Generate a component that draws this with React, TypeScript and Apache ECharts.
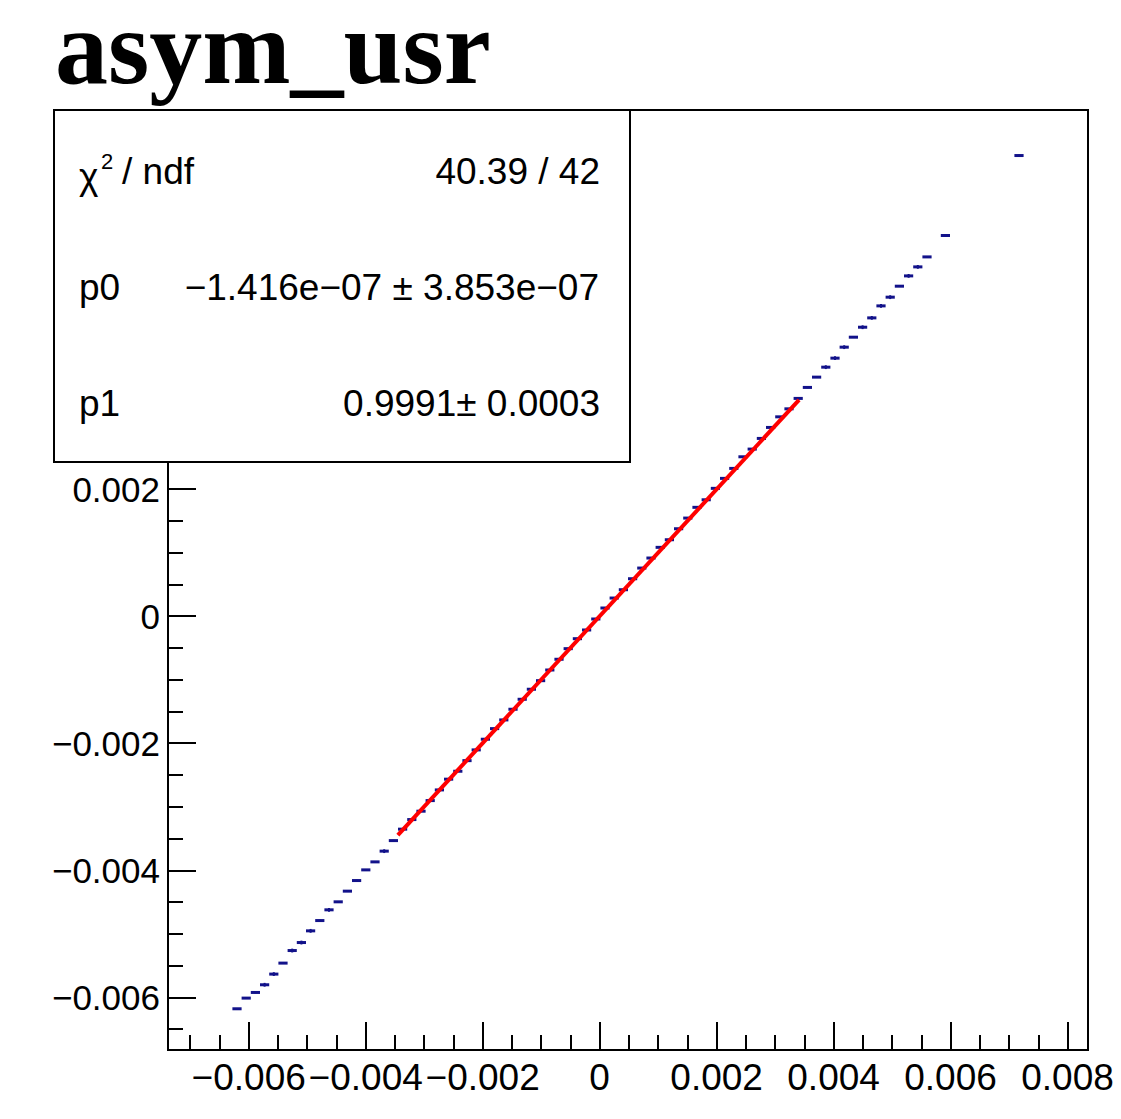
import React, { useEffect, useRef } from "react";
import * as echarts from "echarts";

// ---- data ----
const TITLE = "asym_usr";
const HIST_MIN = -0.00738;
const HIST_MAX = 0.00835;
const N_BINS = 100;
const Y_MIN = -0.00683;
const Y_MAX = 0.00797;

const binIndex = [
  7, 8, 9, 10, 11, 12, 13, 14, 15, 16, 17, 18, 19, 20, 21, 22, 23, 24,
  25, 26, 27, 28, 29, 30, 31, 32, 33, 34, 35, 36, 37, 38, 39, 40, 41, 42, 43, 44, 45, 46,
  47, 48, 49, 50, 51, 52, 53, 54, 55, 56, 57, 58, 59, 60, 61, 62, 63, 64, 65, 66, 67, 68,
  69, 70, 71, 72, 73, 74, 75, 76, 77, 78, 79, 80, 81, 82, 84, 92,
];
const yValues = [
  -0.006181, -0.006013, -0.005924, -0.005803, -0.005635, -0.005462, -0.005264, -0.005138,
  -0.004954, -0.004792, -0.004623, -0.004497, -0.004329, -0.004162, -0.003994, -0.003868,
  -0.003699, -0.003533,
  -0.003353, -0.003202, -0.00307, -0.002903, -0.002735, -0.002566, -0.002441, -0.002274,
  -0.002105, -0.001937, -0.00177, -0.001633, -0.001465, -0.001308, -0.00115, -0.001015,
  -0.000847, -0.000678, -0.000511, -0.000354, -0.000217, -0.000044,
  0.000129, 0.000286, 0.000417, 0.00059, 0.000758, 0.000916, 0.001084, 0.001204, 0.001377,
  0.001545, 0.001714, 0.001833, 0.002013, 0.00217, 0.002327, 0.00251, 0.002631, 0.002799,
  0.002972, 0.003139, 0.003265, 0.003429,
  0.003602, 0.003764, 0.003921, 0.004063, 0.004236, 0.004393, 0.00455, 0.004697, 0.004886,
  0.005023, 0.005196, 0.005358, 0.0055, 0.005657, 0.005994, 0.007253,
];
const yErrors = [
  0.000012, 0.000012, 0.000012, 0.00003, 0.00003, 0.000012, 0.00003, 0.00003,
  0.00003, 0.000012, 0.00003, 0.000012, 0.000012, 0.000012, 0.000012, 0.000012,
  0.00003, 0.000012,
  0.000012, 0.000012, 0.000012, 0.000012, 0.000012, 0.000012, 0.000012, 0.000012,
  0.000012, 0.000012, 0.000012, 0.000012, 0.000012, 0.000012, 0.000012, 0.000012,
  0.000012, 0.000012, 0.000012, 0.000012, 0.000012, 0.000012,
  0.000012, 0.000012, 0.000012, 0.000012, 0.000012, 0.000012, 0.000012, 0.000012, 0.000012,
  0.000012, 0.000012, 0.000012, 0.000012, 0.000012, 0.000012, 0.000012, 0.000012, 0.000012,
  0.000012, 0.000012, 0.000012, 0.000012,
  0.000012, 0.000012, 0.00003, 0.00003, 0.00003, 0.000012, 0.00003, 0.00003, 0.00003,
  0.00003, 0.000012, 0.00003, 0.00003, 0.000012, 0.000012, 0.000012,
];

const FIT_P0 = -1.416e-7;
const FIT_P1 = 0.9991;
const FIT_RANGE = [-0.00345, 0.00341];

const xMajorTicks = [-0.006, -0.004, -0.002, 0, 0.002, 0.004, 0.006, 0.008];
const yMajorTicks = [-0.006, -0.004, -0.002, 0, 0.002, 0.004, 0.006];
const MINOR_STEP = 0.0005;

const statsLabels = ["p0", "p1"];
const statsValues = ["40.39 / 42", "\u22121.416e\u221207 \u00b1 3.853e\u221207", "0.9991\u00b1 0.0003"];

// ---- helpers ----
const BW = (HIST_MAX - HIST_MIN) / N_BINS;
const BLUE = "#12128a";
const FONT = "Liberation Sans, Arial, Helvetica, sans-serif";

function minorTicks(lo: number, hi: number) {
  const out: number[] = [];
  const a = Math.ceil(lo / MINOR_STEP);
  const b = Math.floor(hi / MINOR_STEP);
  for (let i = a; i <= b; i++) out.push(Number((i * MINOR_STEP).toFixed(6)));
  return out;
}

function fmt(v: number) {
  if (Math.abs(v) < 1e-12) return "0";
  return (v < 0 ? "\u2212" : "") + Math.abs(v).toFixed(3);
}

const points = binIndex.map((k, i) => [HIST_MIN + (k + 0.5) * BW, yValues[i], yErrors[i]]);
const fitLine = FIT_RANGE.map((x) => [x, FIT_P0 + FIT_P1 * x]);

export default function App() {
  const ref = useRef<HTMLDivElement>(null);
  useEffect(() => {
    const chart = echarts.init(ref.current!, null, { renderer: "svg" });
    const axisCommon = {
      type: "value",
      splitLine: { show: false },
      axisLine: { show: false, onZero: false },
    };
    const tickStyle = { color: "#000", width: 2 };
    const option: any = {
      animation: false,
      backgroundColor: "#ffffff",
      grid: {
        left: 168,
        right: 33,
        top: 110,
        bottom: 69,
        show: true,
        borderColor: "#000",
        borderWidth: 2,
        backgroundColor: "transparent",
      },
      xAxis: [
        {
          ...axisCommon,
          min: HIST_MIN,
          max: HIST_MAX,
          position: "bottom",
          axisTick: { show: true, inside: true, length: 28, lineStyle: tickStyle, customValues: xMajorTicks },
          axisLabel: {
            show: true,
            customValues: xMajorTicks,
            formatter: fmt,
            fontSize: 37,
            color: "#000",
            fontFamily: FONT,
            margin: 9,
            hideOverlap: false,
          },
        },
        {
          ...axisCommon,
          min: HIST_MIN,
          max: HIST_MAX,
          position: "bottom",
          axisTick: { show: true, inside: true, length: 15, lineStyle: tickStyle, customValues: minorTicks(HIST_MIN, HIST_MAX) },
          axisLabel: { show: false },
        },
      ],
      yAxis: [
        {
          ...axisCommon,
          min: Y_MIN,
          max: Y_MAX,
          position: "left",
          axisTick: { show: true, inside: true, length: 28, lineStyle: tickStyle, customValues: yMajorTicks },
          axisLabel: {
            show: true,
            customValues: yMajorTicks,
            formatter: fmt,
            fontSize: 35,
            color: "#000",
            fontFamily: FONT,
            margin: 8,
          },
        },
        {
          ...axisCommon,
          min: Y_MIN,
          max: Y_MAX,
          position: "left",
          axisTick: { show: true, inside: true, length: 15, lineStyle: tickStyle, customValues: minorTicks(Y_MIN, Y_MAX) },
          axisLabel: { show: false },
        },
      ],
      series: [
        {
          type: "custom",
          xAxisIndex: 0,
          yAxisIndex: 0,
          data: points,
          encode: { x: 0, y: 1 },
          z: 2,
          renderItem: (params: any, api: any) => {
            const x = api.value(0);
            const y = api.value(1);
            const e = api.value(2);
            const a = api.coord([x - BW / 2, y]);
            const b = api.coord([x + BW / 2, y]);
            const c = api.coord([x, y - e]);
            const d = api.coord([x, y + e]);
            return {
              type: "group",
              children: [
                { type: "line", shape: { x1: a[0], y1: a[1], x2: b[0], y2: b[1] }, style: { stroke: BLUE, lineWidth: 3 } },
                { type: "line", shape: { x1: c[0], y1: c[1], x2: d[0], y2: d[1] }, style: { stroke: BLUE, lineWidth: 2 } },
              ],
            };
          },
        },
        {
          type: "line",
          xAxisIndex: 0,
          yAxisIndex: 0,
          data: fitLine,
          symbol: "none",
          lineStyle: { color: "#ff0000", width: 4 },
          z: 3,
        },
      ],
      graphic: [
        {
          type: "text",
          x: 55,
          y: 47,
          z: 100,
          style: {
            text: TITLE,
            fontFamily: "Liberation Serif, Times New Roman, serif",
            fontWeight: "bold",
            fontSize: 106,
            lineHeight: 80,
            fill: "#000",
            verticalAlign: "middle",
            align: "left",
          },
        },
        {
          type: "rect",
          z: 100,
          shape: { x: 54, y: 110, width: 576, height: 352 },
          style: { fill: "#fff", stroke: "#000", lineWidth: 2 },
        },
        { type: "text", z: 101, x: 79, y: 176, style: { text: "\u03c7", fontFamily: FONT, fontSize: 37, fill: "#000", verticalAlign: "middle" } },
        { type: "text", z: 101, x: 101, y: 161, style: { text: "2", fontFamily: FONT, fontSize: 22, fill: "#000", verticalAlign: "middle" } },
        { type: "text", z: 101, x: 122, y: 171, style: { text: "/ ndf", fontFamily: FONT, fontSize: 37, fill: "#000", verticalAlign: "middle" } },
        { type: "text", z: 101, x: 79, y: 287, style: { text: statsLabels[0], fontFamily: FONT, fontSize: 37, fill: "#000", verticalAlign: "middle" } },
        { type: "text", z: 101, x: 79, y: 403, style: { text: statsLabels[1], fontFamily: FONT, fontSize: 37, fill: "#000", verticalAlign: "middle" } },
        { type: "text", z: 101, x: 600, y: 171, style: { text: statsValues[0], fontFamily: FONT, fontSize: 37, fill: "#000", verticalAlign: "middle", align: "right" } },
        { type: "text", z: 101, x: 599, y: 287, style: { text: statsValues[1], fontFamily: FONT, fontSize: 37, fill: "#000", verticalAlign: "middle", align: "right" } },
        { type: "text", z: 101, x: 600, y: 403, style: { text: statsValues[2], fontFamily: FONT, fontSize: 37, fill: "#000", verticalAlign: "middle", align: "right" } },
      ],
    };
    chart.setOption(option);
    return () => chart.dispose();
  }, []);
  return (
    <div
      ref={ref}
      style={{ position: "absolute", left: 0, top: 0, width: 1121, height: 1119, background: "#fff" }}
    />
  );
}
